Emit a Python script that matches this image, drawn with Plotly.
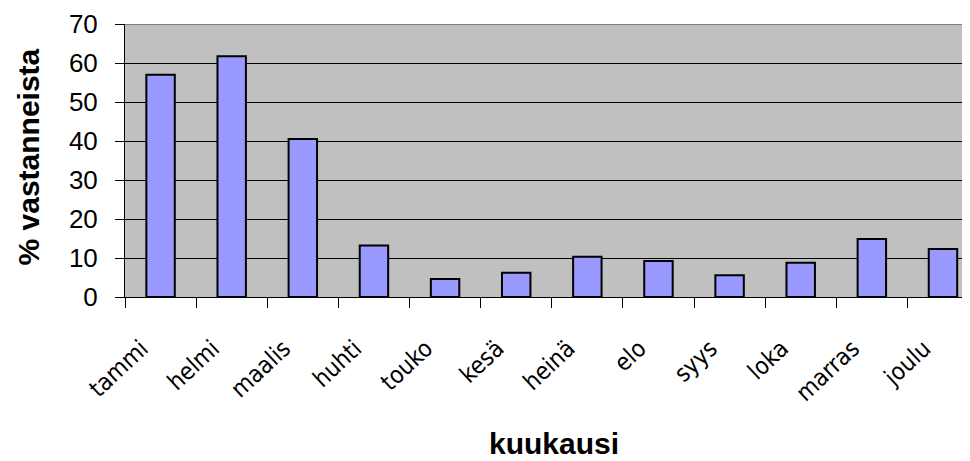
import plotly.graph_objects as go

months = ["tammi", "helmi", "maalis", "huhti", "touko", "kesä", "heinä",
          "elo", "syys", "loka", "marras", "joulu"]
percent = [57.0, 61.7, 40.5, 13.2, 4.6, 6.2, 10.3, 9.2, 5.6, 8.8, 14.9, 12.3]
y_ticks = [0, 10, 20, 30, 40, 50, 60, 70]

fig = go.Figure(go.Bar(
    x=months, y=percent,
    marker=dict(color="#9999FF", line=dict(color="black", width=2)),
))

fig.update_layout(
    width=962, height=453,
    margin=dict(l=117, r=0, t=16, b=164),
    paper_bgcolor="white",
    plot_bgcolor="#C0C0C0",
    bargap=0.6,
    showlegend=False,
    font=dict(family="Liberation Sans, Arial", color="black"),
    annotations=[
        dict(text="<b>kuukausi</b>", xref="paper", yref="paper", x=0.5, y=0,
             xanchor="center", yanchor="middle", xshift=6, yshift=-146,
             showarrow=False, font=dict(size=30)),
        dict(text="<b>% vastanneista</b>", xref="paper", yref="paper", x=0, y=0.5,
             xanchor="center", yanchor="middle", xshift=-97, yshift=3,
             textangle=-90, showarrow=False, font=dict(size=30)),
    ],
    shapes=[dict(type="line", xref="paper", yref="y", x0=0, x1=1, y0=70, y1=70,
                 line=dict(color="#808080", width=2), layer="above")],
)
fig.update_xaxes(
    type="category",
    range=[-0.5, 11.38],
    tickson="boundaries",
    ticks="outside", ticklen=10, tickcolor="black", tickwidth=1,
    tickangle=-43,
    ticklabelstandoff=27,
    ticklabelshift=-19,
    tickfont=dict(family="DejaVu Sans Condensed, Tahoma", size=24),
    showline=True, linecolor="black", linewidth=1,
    showgrid=False,
    automargin=False,
)
fig.update_yaxes(
    range=[0, 70],
    tickvals=y_ticks,
    ticks="outside", ticklen=9, tickcolor="black", tickwidth=1,
    ticklabelstandoff=12,
    tickfont=dict(size=26),
    showline=True, linecolor="black", linewidth=1,
    showgrid=True, gridcolor="black", gridwidth=1,
    zeroline=False,
    automargin=False,
)

fig.write_html("out.html")
